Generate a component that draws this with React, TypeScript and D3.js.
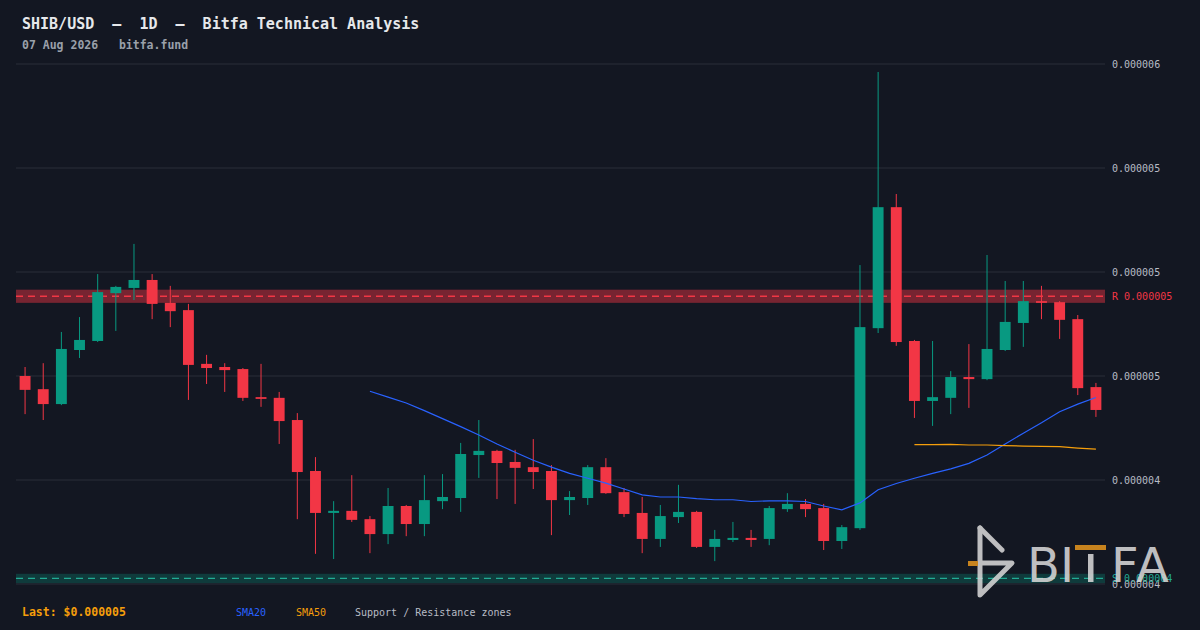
import * as d3 from "d3"

// prices in micro-units (x 1e-6)
const UNIT = 1e-6

const open = [
  4.700, 4.662, 4.619, 4.775, 4.801, 4.939, 4.954, 4.977, 4.911, 4.890,
  4.735, 4.726, 4.720, 4.639, 4.637, 4.573, 4.426, 4.305, 4.311, 4.287,
  4.244, 4.325, 4.273, 4.339, 4.348, 4.472, 4.484, 4.452, 4.437, 4.426,
  4.342, 4.348, 4.437, 4.365, 4.305, 4.230, 4.293, 4.308, 4.207, 4.227,
  4.233, 4.230, 4.316, 4.331, 4.319, 4.224, 4.261, 4.838, 5.187, 4.801,
  4.628, 4.637, 4.697, 4.691, 4.775, 4.853, 4.916, 4.913, 4.864, 4.668,
]
const high = [
  4.726, 4.737, 4.827, 4.870, 4.994, 4.960, 5.081, 4.994, 4.960, 4.908,
  4.761, 4.737, 4.723, 4.735, 4.654, 4.593, 4.466, 4.339, 4.414, 4.296,
  4.377, 4.328, 4.414, 4.417, 4.507, 4.573, 4.487, 4.487, 4.518, 4.443,
  4.368, 4.443, 4.463, 4.377, 4.351, 4.328, 4.386, 4.311, 4.256, 4.279,
  4.256, 4.325, 4.362, 4.345, 4.331, 4.270, 5.020, 5.577, 5.225, 4.804,
  4.801, 4.714, 4.792, 5.049, 4.974, 4.974, 4.960, 4.916, 4.876, 4.680,
]
const low = [
  4.590, 4.573, 4.616, 4.752, 4.798, 4.830, 4.919, 4.864, 4.841, 4.631,
  4.677, 4.654, 4.628, 4.611, 4.504, 4.287, 4.187, 4.172, 4.279, 4.189,
  4.215, 4.238, 4.238, 4.316, 4.308, 4.406, 4.345, 4.331, 4.374, 4.241,
  4.299, 4.328, 4.360, 4.293, 4.189, 4.207, 4.276, 4.204, 4.166, 4.221,
  4.207, 4.212, 4.308, 4.293, 4.198, 4.201, 4.256, 4.824, 4.787, 4.579,
  4.556, 4.590, 4.608, 4.688, 4.772, 4.784, 4.864, 4.807, 4.645, 4.582,
]
const close = [
  4.660, 4.619, 4.778, 4.804, 4.942, 4.957, 4.977, 4.908, 4.887, 4.732,
  4.723, 4.717, 4.637, 4.634, 4.570, 4.423, 4.305, 4.311, 4.285, 4.244,
  4.325, 4.273, 4.342, 4.351, 4.475, 4.484, 4.449, 4.435, 4.423, 4.342,
  4.351, 4.437, 4.362, 4.302, 4.230, 4.296, 4.308, 4.207, 4.230, 4.233,
  4.227, 4.319, 4.331, 4.316, 4.224, 4.264, 4.841, 5.187, 4.798, 4.628,
  4.639, 4.697, 4.691, 4.778, 4.856, 4.916, 4.911, 4.862, 4.665, 4.602,
]

// moving averages, starting at candle 19 and 49
const sma20Start = 19
const sma20 = [
  4.656, 4.639, 4.622, 4.600, 4.577, 4.554, 4.530, 4.504, 4.480, 4.457,
  4.437, 4.419, 4.405, 4.391, 4.374, 4.357, 4.351, 4.351, 4.346, 4.343,
  4.343, 4.338, 4.340, 4.340, 4.338, 4.325, 4.314, 4.334, 4.372, 4.390,
  4.405, 4.419, 4.432, 4.448, 4.472, 4.504, 4.535, 4.565, 4.597, 4.619, 4.638,
]
const sma50Start = 49
const sma50 = [4.502, 4.502, 4.503, 4.501, 4.501, 4.499, 4.498, 4.497, 4.496, 4.492, 4.489]

// support / resistance zones: [level, half height]
const resistance = [4.930, 0.019]
const support = [4.116, 0.0135]

const tickValues = [5.6, 5.3, 5.0, 4.7, 4.4, 4.1]

const title = "SHIB/USD  —  1D  —  Bitfa Technical Analysis"
const subtitle = "07 Aug 2026   bitfa.fund"

const W = 1200
const H = 630
const plot = { left: 16, right: 1105, top: 64, bottom: 584 }

const BG = "#131722"
const UP = "#089981"
const DOWN = "#f23645"
const BLUE = "#2962ff"
const ORANGE = "#f59e0b"
const MONO = "'DejaVu Sans Mono', monospace"

const fmt = (v: number) => (v * UNIT).toFixed(6)

export default function App() {
  const idx = d3.range(close.length)
  const x = d3
    .scaleBand<number>()
    .domain(idx)
    .range([plot.left, plot.right])
    .paddingInner(0.4)
    .paddingOuter(0.2)
  const y = d3.scaleLinear().domain([4.1, 5.6]).range([plot.bottom, plot.top])
  const cx = (i: number) => (x(i) ?? 0) + x.bandwidth() / 2

  const line = d3
    .line<[number, number]>()
    .x((d) => cx(d[0]))
    .y((d) => y(d[1]))

  const sma20Path = line(sma20.map((v, k) => [k + sma20Start, v]))
  const sma50Path = line(sma50.map((v, k) => [k + sma50Start, v]))

  const zone = (z: number[], fill: string, stroke: string, label: string, color: string) => (
    <g>
      <rect
        x={plot.left}
        width={plot.right - plot.left}
        y={y(z[0] + z[1])}
        height={y(z[0] - z[1]) - y(z[0] + z[1])}
        fill={fill}
      />
      <line
        x1={plot.left}
        x2={plot.right}
        y1={y(z[0])}
        y2={y(z[0])}
        stroke={stroke}
        strokeWidth={1.3}
        strokeDasharray="7 5"
      />
      <text x={plot.right + 7} y={y(z[0])} dy="0.35em" fill={color} fontSize={10} fontFamily={MONO}>
        {label} {fmt(z[0])}
      </text>
    </g>
  )

  return (
    <svg
      width={W}
      height={H}
      style={{ position: "absolute", left: 0, top: 0, background: BG }}
    >
      <rect width={W} height={H} fill={BG} />

      {/* grid + right axis */}
      {tickValues.map((t) => (
        <g key={t}>
          <line x1={plot.left} x2={plot.right} y1={y(t)} y2={y(t)} stroke="#2a2e39" strokeWidth={1} />
          <text x={plot.right + 7} y={y(t)} dy="0.35em" fill="#b8bcc6" fontSize={10} fontFamily={MONO}>
            {fmt(t)}
          </text>
        </g>
      ))}

      {zone(resistance, "rgba(242,54,69,0.45)", "#f23645", "R", DOWN)}
      {zone(support, "rgba(8,153,129,0.28)", "#22ab94", "S", "#22ab94")}

      {/* candles */}
      {idx.map((i) => {
        const up = close[i] >= open[i]
        const c = up ? UP : DOWN
        const top = y(Math.max(open[i], close[i]))
        const bot = y(Math.min(open[i], close[i]))
        return (
          <g key={i}>
            <line x1={cx(i)} x2={cx(i)} y1={y(high[i])} y2={y(low[i])} stroke={c} strokeWidth={1} />
            <rect x={x(i)} width={x.bandwidth()} y={top} height={Math.max(1.5, bot - top)} fill={c} />
          </g>
        )
      })}

      <path d={sma20Path ?? ""} fill="none" stroke={BLUE} strokeWidth={1.2} />
      <path d={sma50Path ?? ""} fill="none" stroke={ORANGE} strokeWidth={1.2} />

      {/* header */}
      <text x={22} y={29} fill="#e6e8eb" fontSize={15} fontWeight="bold" fontFamily={MONO} style={{ whiteSpace: "pre" }}>
        {title}
      </text>
      <text x={22} y={49} fill="#9aa0aa" fontSize={11.5} fontWeight="bold" fontFamily={MONO} style={{ whiteSpace: "pre" }}>
        {subtitle}
      </text>

      {/* footer legend */}
      <text x={22} y={616} fill={ORANGE} fontSize={11.5} fontWeight="bold" fontFamily={MONO}>
        Last: ${fmt(close[close.length - 1])}
      </text>
      <text x={236} y={616} fill={BLUE} fontSize={10} fontFamily={MONO}>SMA20</text>
      <text x={296} y={616} fill={ORANGE} fontSize={10} fontFamily={MONO}>SMA50</text>
      <text x={355} y={616} fill="#b8bcc6" fontSize={10} fontFamily={MONO}>
        Support / Resistance zones
      </text>

      {/* watermark */}
      <g opacity={0.88}>
        <g stroke="#d6d6d6" strokeWidth={5} strokeLinecap="round" strokeLinejoin="round" fill="none">
          <path d="M980,528 L980,595 L1012,563 L980,563" />
          <path d="M980,528 L1002,550" />
        </g>
        <rect x={968} y={561} width={10} height={5} fill="#e0921e" />
        <g fill="#d6d6d6" fontFamily="'DejaVu Sans', sans-serif" fontSize={48}>
          <text x={1027} y={582}>B</text>
          <text x={1060} y={582}>I</text>
          <text x={1111} y={582}>F</text>
          <text x={1136} y={582}>A</text>
        </g>
        <rect x={1088} y={554} width={5.5} height={28} fill="#d6d6d6" />
        <rect x={1075} y={545} width={31} height={5} fill="#e0921e" />
      </g>
    </svg>
  )
}
